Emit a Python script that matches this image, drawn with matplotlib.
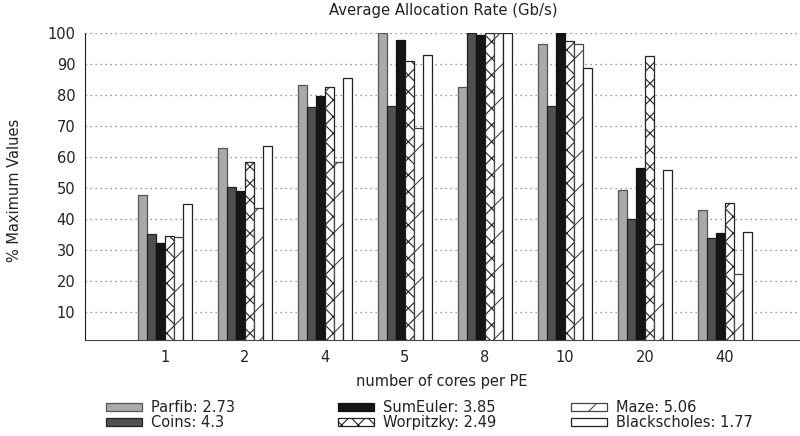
import numpy as np
import matplotlib
matplotlib.use("Agg")
import matplotlib.pyplot as plt
from matplotlib.patches import Patch

cores = ["1", "2", "4", "5", "8", "10", "20", "40"]

parfib = [47.6, 62.7, 83.1, 100, 82.5, 96.4, 49.2, 42.9]
coins = [35.2, 50.3, 76.0, 76.4, 100, 76.4, 40.1, 33.7]
sumeuler = [32.3, 48.9, 79.6, 97.6, 99.3, 100, 56.5, 35.4]
worpitzky = [34.4, 58.2, 82.4, 90.8, 100, 97.2, 92.5, 45.1]
maze = [34.2, 43.4, 58.4, 69.2, 100, 96.3, 31.9, 22.4]
blackscholes = [44.7, 63.4, 85.4, 92.8, 100, 88.7, 55.9, 35.7]

labels = ["Parfib: 2.73", "Coins: 4.3", "SumEuler: 3.85",
          "Worpitzky: 2.49", "Maze: 5.06", "Blackscholes: 1.77"]

plt.rcParams['font.family'] = 'DejaVu Sans'
plt.rcParams['font.size'] = 10.5
plt.rcParams['hatch.linewidth'] = 0.8
plt.rcParams['hatch.color'] = '#111111'

series = [parfib, coins, sumeuler, worpitzky, maze, blackscholes]
faces = ['#aaaaaa', '#505050', '#151515', 'white', 'white', 'white']
edges = ['#555555', '#222222', '#111111', '#222222', '#444444', '#222222']
hatches = [None, None, None, 'xx', '/', None]

fig = plt.figure(figsize=(8, 4.36), dpi=100)
ax = fig.add_axes([85 / 800, 1 - 340 / 436, 715 / 800, (340 - 32.7) / 436])

x = np.arange(len(cores))
w = 0.1125
for k, vals in enumerate(series):
    ax.bar(x + (k - 2.5) * w, vals, width=w, color=faces[k], edgecolor=edges[k],
           linewidth=0.9, hatch=hatches[k], label=labels[k], zorder=2)

ax.set_xlim(-1, 7.94)
ax.set_ylim(1, 100)
ax.set_xticks(x)
ax.set_xticklabels(cores)
ax.set_yticks(range(10, 101, 10))
ax.tick_params(length=0, colors='#222222', labelsize=10.5)
ax.tick_params(axis='x', pad=7)
ax.tick_params(axis='y', pad=7)
ax.spines['top'].set_visible(False)
ax.spines['right'].set_visible(False)
ax.spines['left'].set_color('#222222')
ax.spines['bottom'].set_color('#444444')
ax.yaxis.grid(True, linestyle=(0, (1, 3)), color='#777777', linewidth=0.9, zorder=0)
ax.set_axisbelow(True)

fig.text(443 / 800, 1 - 10 / 436, "Average Allocation Rate (Gb/s)", ha='center', va='center',
         fontsize=10.7, color='#222222')
fig.text(15 / 800, 1 - 190 / 436, "% Maximum Values", rotation=90, ha='center', va='center',
         fontsize=10.5, color='#222222')
fig.text(442 / 800, 1 - 381 / 436, "number of cores per PE", ha='center', va='center',
         fontsize=10.5, color='#222222')

handles = [Patch(facecolor=faces[k], edgecolor=edges[k], hatch=hatches[k], linewidth=0.9)
           for k in range(6)]
for col, xpos in enumerate([106, 338, 571]):
    leg = fig.legend(handles[2 * col:2 * col + 2], labels[2 * col:2 * col + 2],
                     loc='upper left', bbox_to_anchor=(xpos / 800, 1 - 400 / 436),
                     frameon=False, fontsize=10.5, handlelength=2.5, handleheight=0.5,
                     handletextpad=0.6, labelspacing=0.0, borderaxespad=0, borderpad=0)
    for t in leg.get_texts():
        t.set_color('#222222')

fig.savefig("out.png", dpi=100)
